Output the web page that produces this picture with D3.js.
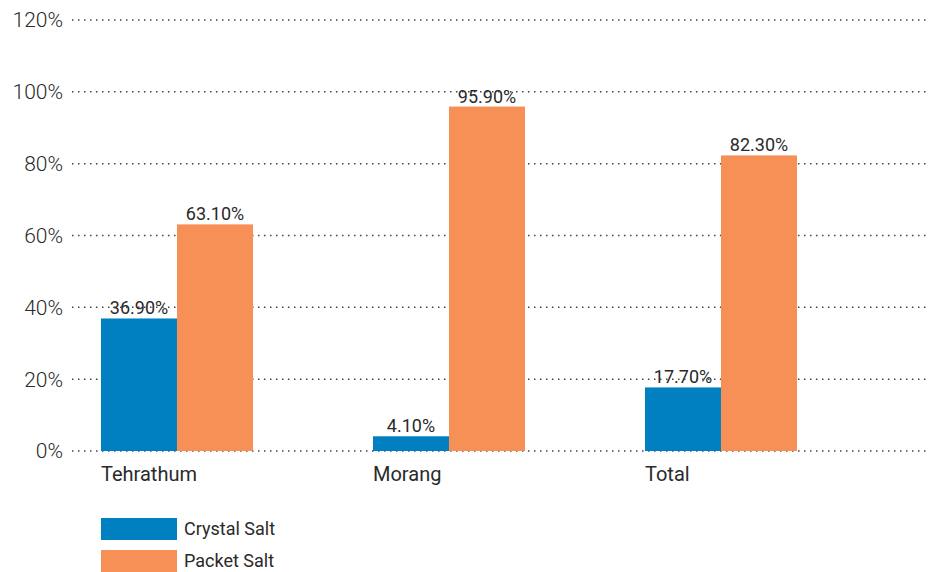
<!DOCTYPE html>
<html>
<head>
<meta charset="utf-8">
<script src="https://cdn.jsdelivr.net/npm/d3@7"></script>
<style>
  body { margin: 0; background: #fff; }
  svg { display: block; font-family: Roboto, sans-serif; }
</style>
</head>
<body>
<svg id="chart" width="929" height="572"></svg>
<script>
// chart data
const categories = ['Tehrathum', 'Morang', 'Total'];
const seriesNames = ['Crystal Salt', 'Packet Salt'];
const crystalSalt = [36.9, 4.1, 17.7];
const packetSalt = [63.1, 95.9, 82.3];
const yTicks = [0, 20, 40, 60, 80, 100, 120];
const colors = ['#0080c0', '#f79056'];

const svg = d3.select('#chart');
const textColor = '#2a2a2a';

// scales
const y = d3.scaleLinear().domain([0, 120]).range([451, 20]);
const x = d3.scaleBand()
  .domain(categories)
  .range([101, 797])
  .paddingInner(120 / 272)
  .paddingOuter(0);
const x1 = d3.scaleBand().domain(seriesNames).range([0, x.bandwidth()]);

const rows = categories.map((c, i) => ({ cat: c, values: [crystalSalt[i], packetSalt[i]] }));

// y tick labels
svg.append('g')
  .selectAll('text')
  .data(yTicks)
  .join('text')
  .attr('x', 63)
  .attr('y', d => y(d))
  .attr('dy', '0.35em')
  .attr('text-anchor', 'end')
  .attr('fill', textColor)
  .style('font-size', '21px')
  .style('font-weight', 300)
  .text(d => d + '%');

// value labels (drawn under the gridlines, like the source)
const labels = svg.append('g');
rows.forEach(r => {
  r.values.forEach((v, j) => {
    labels.append('text')
      .attr('x', x(r.cat) + x1(seriesNames[j]) + x1.bandwidth() / 2)
      .attr('y', y(v) - 4)
      .attr('text-anchor', 'middle')
      .attr('fill', textColor)
      .style('font-size', '18px')
      .text(v.toFixed(2) + '%');
  });
});

// dotted gridlines
svg.append('g')
  .selectAll('line')
  .data(yTicks)
  .join('line')
  .attr('x1', 72)
  .attr('x2', 929)
  .attr('y1', d => y(d))
  .attr('y2', d => y(d))
  .attr('stroke', '#444')
  .attr('stroke-width', 1.5)
  .attr('stroke-dasharray', '1.5,4.5');

// bars
svg.append('g')
  .selectAll('g')
  .data(rows)
  .join('g')
  .attr('transform', d => `translate(${x(d.cat)},0)`)
  .selectAll('rect')
  .data(d => d.values.map((v, j) => ({ v, j })))
  .join('rect')
  .attr('x', d => x1(seriesNames[d.j]))
  .attr('width', x1.bandwidth())
  .attr('y', d => y(d.v))
  .attr('height', d => y(0) - y(d.v))
  .attr('fill', d => colors[d.j]);

// category labels
svg.append('g')
  .selectAll('text')
  .data(categories)
  .join('text')
  .attr('x', d => x(d))
  .attr('y', 481)
  .attr('fill', textColor)
  .style('font-size', '20px')
  .text(d => d);

// legend
const legend = svg.append('g')
  .selectAll('g')
  .data(seriesNames)
  .join('g')
  .attr('transform', (d, i) => `translate(101,${518 + i * 32})`);
legend.append('rect')
  .attr('width', 76)
  .attr('height', 22)
  .attr('fill', (d, i) => colors[i]);
legend.append('text')
  .attr('x', 83)
  .attr('y', 11)
  .attr('dy', '0.35em')
  .attr('fill', textColor)
  .style('font-size', '18px')
  .text(d => d);
</script>
</body>
</html>
